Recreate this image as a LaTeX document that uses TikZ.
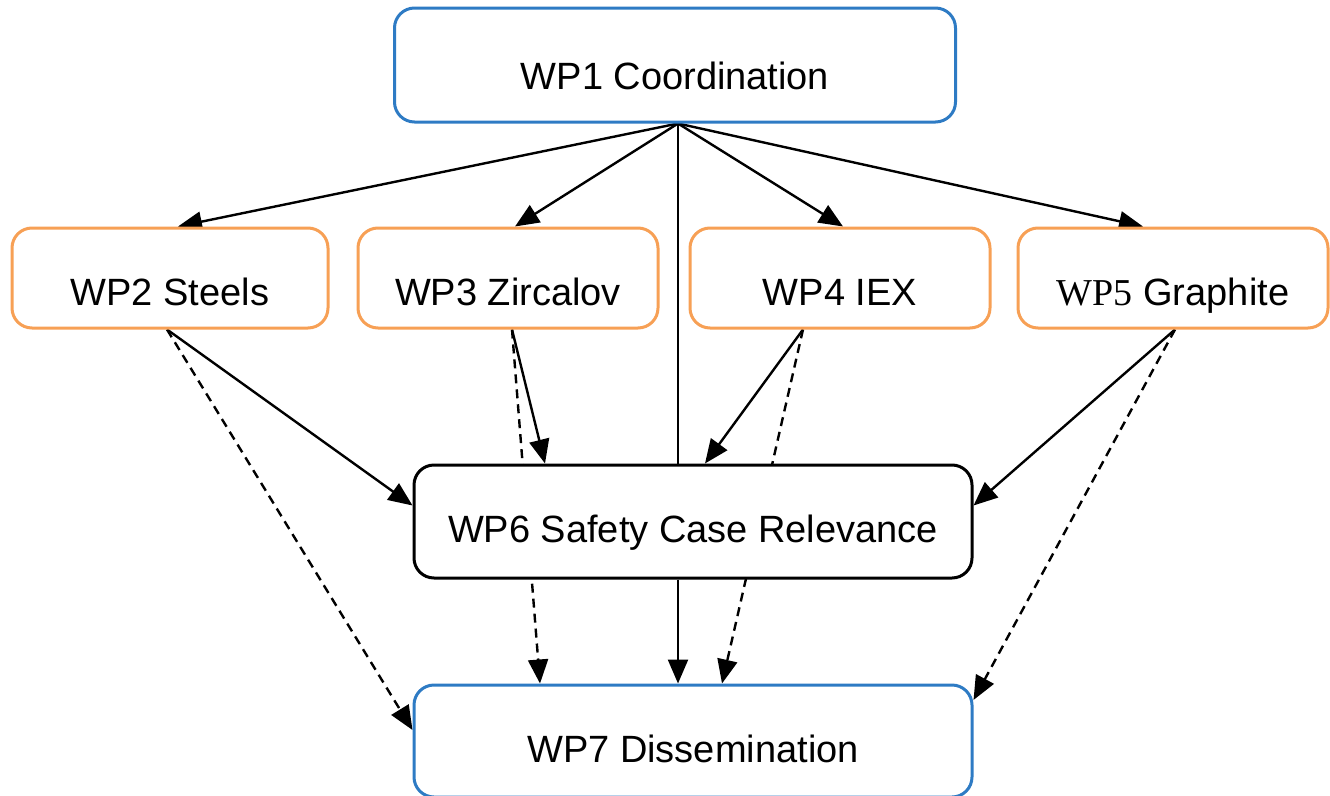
\documentclass[tikz,border=0pt]{standalone}
\usepackage{fontspec}
\setmainfont{Liberation Sans}
\newfontfamily\wpserif{Liberation Serif}
\usetikzlibrary{arrows.meta,backgrounds}
\definecolor{wpblue}{HTML}{2E7BC4}
\definecolor{wporange}{HTML}{F7A055}
\begin{document}
\begin{tikzpicture}[x=1pt,y=-1pt,
  box/.style={draw, fill=white, line width=3pt, rounded corners=20pt, inner sep=0pt,
    text depth=0pt, font=\fontsize{38}{44}\selectfont},
  bluebox/.style={box, draw=wpblue},
  orangebox/.style={box, draw=wporange, minimum width=300pt, minimum height=100pt, text height=55pt},
  blackbox/.style={box, draw=black},
  conn/.style={line width=2.4pt, -{Triangle[length=24pt,width=20pt]}},
  plain/.style={line width=2.4pt},
  dashconn/.style={conn, dash pattern=on 9pt off 6pt}]
\useasboundingbox (0,0) rectangle (1330,795);
\node[bluebox, minimum width=561pt, minimum height=114pt, text height=48pt] (WP1) at (675,65) {WP1 Coordination};
\node[orangebox, minimum width=316pt] (WP2) at (170,278) {WP2 Steels};
\node[orangebox] (WP3) at (508,278) {WP3 Zircalov};
\node[orangebox] (WP4) at (840,278) {WP4 IEX};
\node[orangebox, minimum width=310pt] (WP5) at (1173,278) {{\wpserif WP5} Graphite};
\node[blackbox, minimum width=558pt, minimum height=113pt, text height=42pt] (WP6) at (693,521.5) {WP6 Safety Case Relevance};
\node[bluebox, minimum width=558pt, minimum height=112pt, text height=43pt] (WP7) at (693,741) {WP7 Dissemination};
\begin{pgfonlayer}{background}
\coordinate (fan) at ([xshift=3pt]WP1.south);
\draw[conn] (fan) -- ([xshift=8pt]WP2.north);
\draw[conn] (fan) -- ([xshift=7pt]WP3.north);
\draw[conn] (fan) -- ([xshift=3pt]WP4.north);
\draw[conn] (fan) -- ([xshift=-30pt]WP5.north);
\draw[plain] (fan) -- ([xshift=-15pt]WP6.north);
\draw[conn] ([xshift=-15pt]WP6.south) -- ([xshift=-15pt]WP7.north);
\draw[conn] ([xshift=-3pt]WP2.south) -- ([yshift=16pt]WP6.west);
\draw[dashconn] ([xshift=-3pt]WP2.south) -- ([yshift=11pt]WP7.west);
\draw[conn] ([xshift=4pt]WP3.south) -- ([xshift=-148pt]WP6.north);
\draw[dashconn] ([xshift=4pt]WP3.south) -- ([xshift=-153pt]WP7.north);
\draw[conn] ([xshift=-37pt]WP4.south) -- ([xshift=12pt]WP6.north);
\draw[dashconn] ([xshift=-37pt]WP4.south) -- ([xshift=29pt]WP7.north);
\draw[conn] ([xshift=2pt]WP5.south) -- ([yshift=16pt]WP6.east);
\draw[dashconn] ([xshift=2pt]WP5.south) -- ([yshift=41pt]WP7.east);
\end{pgfonlayer}
\end{tikzpicture}
\end{document}
